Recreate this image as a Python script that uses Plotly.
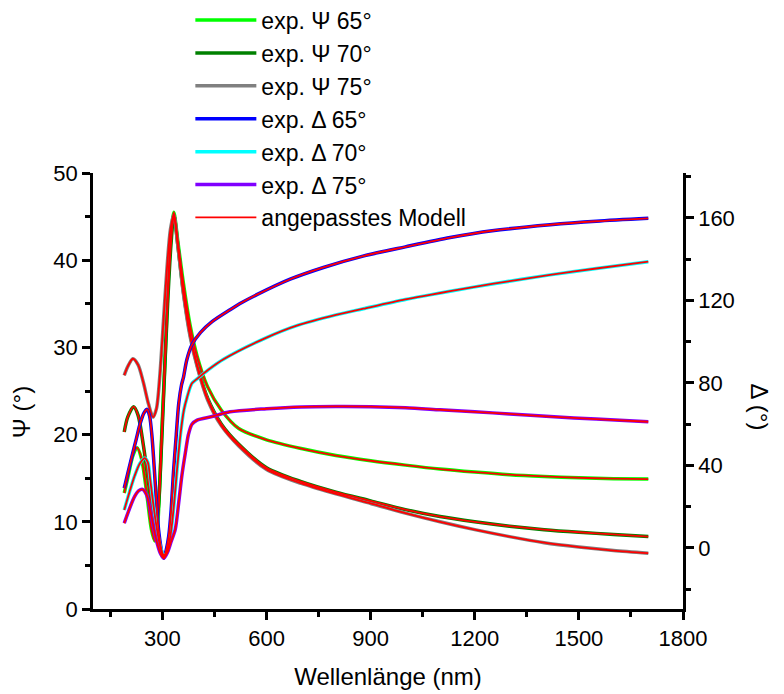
import plotly.graph_objects as go

# ---------------- data ----------------
wl_psi65 = [190, 200, 215, 227, 240, 255, 268, 278, 285, 292, 300, 308, 316, 325, 333, 345, 360, 380, 400,
            430, 470, 520, 600, 700, 800, 900, 1000, 1100, 1200, 1300, 1400, 1500, 1600, 1700]
psi65 = [13.3, 15.0, 17.6, 18.5, 17.2, 13.2, 9.2, 7.8, 9.0, 14.0, 22.0, 29.0, 37.0, 43.0, 45.5, 42.0, 37.5, 32.5, 29.0,
         25.5, 22.8, 20.7, 19.4, 18.4, 17.6, 17.0, 16.5, 16.05, 15.7, 15.4, 15.2, 15.05, 14.95, 14.9]

wl_psi70 = [190, 200, 217, 230, 245, 260, 272, 280, 288, 296, 305, 315, 325, 333, 345, 360, 380, 400,
            430, 470, 520, 600, 700, 800, 900, 1000, 1100, 1200, 1300, 1400, 1500, 1600, 1700]
psi70 = [20.3, 22.0, 23.2, 22.2, 18.8, 14.5, 11.0, 9.6, 11.5, 17.5, 26.0, 35.0, 42.0, 45.2, 41.5, 36.5, 31.5, 28.0,
         24.2, 21.2, 18.9, 16.2, 14.6, 13.4, 12.4, 11.4, 10.6, 10.0, 9.5, 9.1, 8.8, 8.55, 8.3]

wl_psi75 = [190, 200, 215, 230, 245, 260, 273, 283, 293, 303, 313, 323, 333, 345, 360, 380, 400,
            430, 470, 520, 600, 700, 800, 900, 1000, 1100, 1200, 1300, 1400, 1500, 1600, 1700]
psi75 = [26.8, 27.8, 28.7, 28.0, 26.0, 23.5, 22.0, 23.0, 27.0, 33.0, 39.0, 43.5, 45.2, 41.5, 36.3, 31.2, 27.8,
         24.0, 21.0, 18.7, 16.0, 14.4, 13.2, 12.1, 11.0, 10.0, 9.1, 8.3, 7.6, 7.1, 6.7, 6.4]

wl_delta65 = [190, 200, 212, 225, 236, 247, 256, 263, 270, 280, 289, 299, 304, 311, 318, 325, 332, 340, 347, 355,
              361, 370, 385, 410, 443, 495, 529, 572, 668, 764, 878, 1000, 1129, 1250, 1417, 1550, 1700]
delta65 = [29, 36, 44.3, 53, 60.4, 65.5, 67.2, 64, 54, 29.7, 8.7, -2.5, -5, -1, 5.5, 18, 37, 55, 70, 79,
           83, 91, 98.5, 104.5, 109.7, 115.5, 119, 122.8, 130.3, 136, 141.5, 146, 150.5, 153.8, 156.7, 158.4, 159.8]

wl_delta70 = [190, 205, 220, 235, 249, 258, 265, 280, 294, 304, 310, 316, 325, 335, 342, 352, 362, 371, 385, 400,
              433, 476, 600, 687, 800, 879, 1000, 1071, 1129, 1250, 1417, 1550, 1700]
delta70 = [18.4, 27, 35, 41, 43.5, 41.5, 33, 13.6, 0.6, -3.5, -3, 0, 8, 24, 37.8, 55, 67, 73, 79.8, 82,
           86.5, 91.5, 102, 107.8, 113, 116, 120.5, 122.7, 124.5, 128, 132.4, 135.5, 138.8]

wl_delta75 = [190, 205, 220, 232, 243, 255, 265, 280, 294, 304, 315, 325, 337, 347, 356, 366, 375, 385, 400,
              443, 495, 600, 700, 800, 900, 1000, 1100, 1200, 1300, 1417, 1550, 1700]
delta75 = [12, 19, 25, 27.8, 28.4, 25.5, 18.4, 5.5, -2.6, -5, -2, 3, 9, 22, 35, 46, 55, 60, 62,
           63.7, 66, 67.5, 68.4, 68.6, 68.5, 68, 67, 66, 65, 63.7, 62.5, 61.2]

series = [
    ("exp. Ψ 65°", wl_psi65, psi65, "#00FF00", "y"),
    ("exp. Ψ 70°", wl_psi70, psi70, "#008000", "y"),
    ("exp. Ψ 75°", wl_psi75, psi75, "#808080", "y"),
    ("exp. Δ 65°", wl_delta65, delta65, "#0000FF", "y2"),
    ("exp. Δ 70°", wl_delta70, delta70, "#00FFFF", "y2"),
    ("exp. Δ 75°", wl_delta75, delta75, "#8000FF", "y2"),
]
model_name = "angepasstes Modell"

FONT = "Arial, Liberation Sans, sans-serif"

fig = go.Figure()
for name, x, y, color, ax in series:
    fig.add_trace(go.Scatter(x=x, y=y, name=name, mode="lines", yaxis=ax,
                             line=dict(color=color, width=3.5, shape="spline", smoothing=0.8)))
for i, (name, x, y, color, ax) in enumerate(series):
    fig.add_trace(go.Scatter(x=x, y=y, name=model_name, mode="lines", yaxis=ax,
                             legendgroup="model", showlegend=(i == 0),
                             line=dict(color="#FF0000", width=1.8, shape="spline", smoothing=0.8)))

axis_common = dict(showline=True, linecolor="black", linewidth=2.5, ticks="outside",
                   ticklen=8, tickwidth=2.5, tickcolor="black", showgrid=False, zeroline=False,
                   tickfont=dict(family=FONT, size=22, color="black"))

# the page body has an 8px margin, so the figure is sized/offset to compensate
fig.update_layout(
    width=776, height=686,
    margin=dict(l=85, r=101, t=165, b=85, autoexpand=False),
    paper_bgcolor="white", plot_bgcolor="white",
    font=dict(family=FONT, color="black"),
    xaxis=dict(range=[100, 1800], tick0=0, dtick=300,
               minor=dict(ticklen=5, tickwidth=2.5, tickcolor="black", dtick=150, tick0=0, ticks="outside"),
               title=dict(text="Wellenlänge (nm)", font=dict(family=FONT, size=24), standoff=19),
               **axis_common),
    yaxis=dict(range=[0, 50], tick0=0, dtick=10,
               minor=dict(ticklen=5, tickwidth=2.5, tickcolor="black", dtick=5, tick0=0, ticks="outside"),
               **axis_common),
    yaxis2=dict(range=[-29.6, 181.8], tick0=0, dtick=40, overlaying="y", side="right",
                minor=dict(ticklen=5, tickwidth=2.5, tickcolor="black", dtick=20, tick0=0, ticks="outside"),
                **axis_common),
    legend=dict(x=0.165, y=1.40, xanchor="left", yanchor="top", bgcolor="rgba(0,0,0,0)",
                font=dict(family=FONT, size=23, color="black"), itemwidth=61, tracegroupgap=0),
    showlegend=True,
    annotations=[
        dict(text="Ψ (°)", textangle=-90, xref="paper", yref="paper",
             x=-0.12, y=0.452, xanchor="center", yanchor="middle", showarrow=False,
             font=dict(family=FONT, size=24, color="black")),
        dict(text="Δ (°)", textangle=90, xref="paper", yref="paper",
             x=1.13, y=0.463, xanchor="center", yanchor="middle", showarrow=False,
             font=dict(family=FONT, size=24, color="black")),
    ],
)

fig.write_html("out.html")
